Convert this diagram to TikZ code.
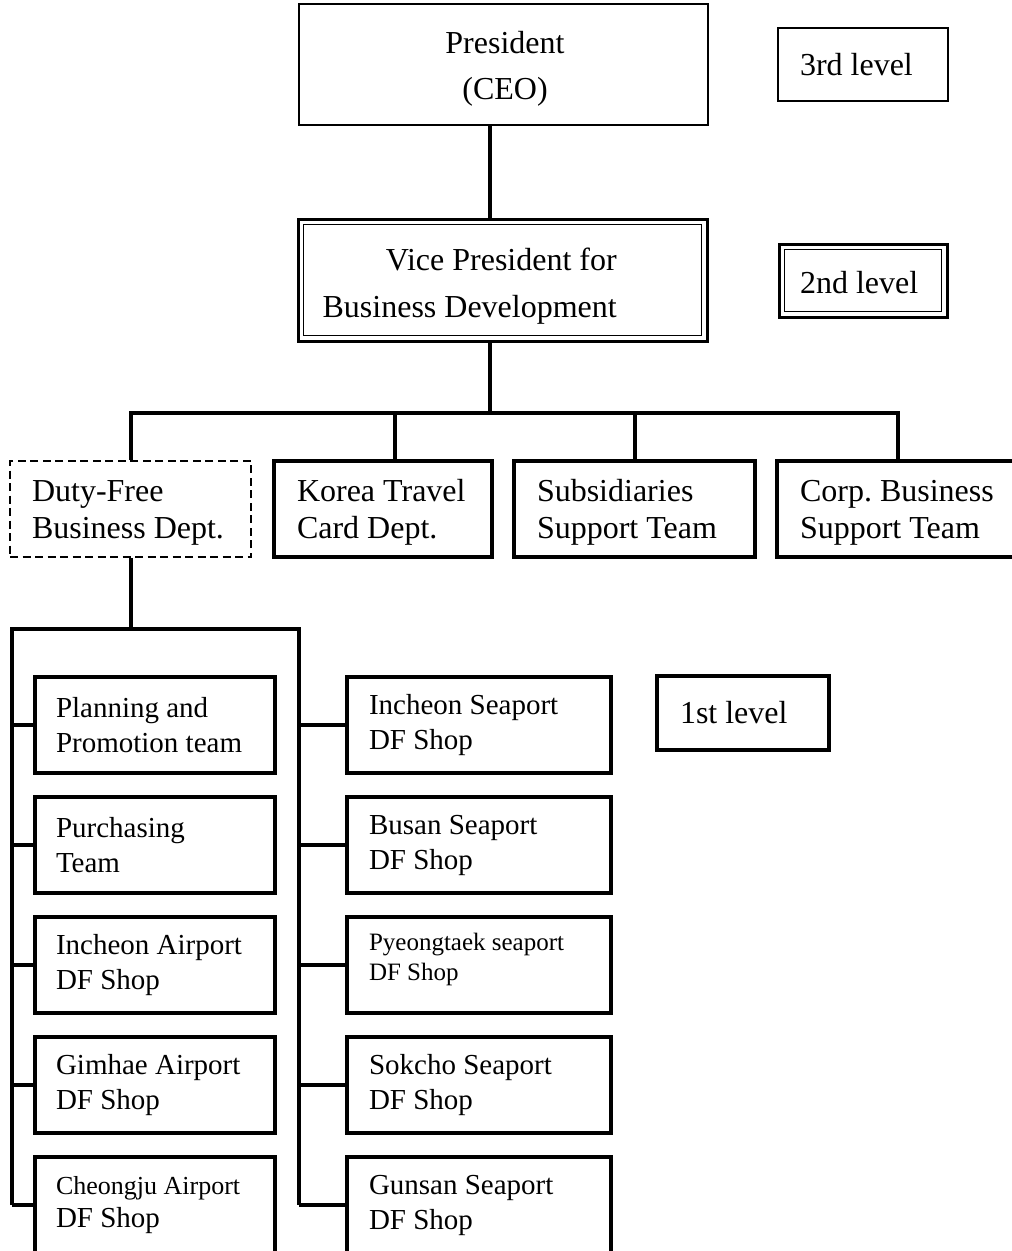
\documentclass[tikz,border=0pt]{standalone}
\usepackage{fontspec}
\setmainfont{Liberation Serif}
\frenchspacing
\begin{document}
\begin{tikzpicture}[x=1pt,y=-1pt,
  conn/.style={line width=4pt},
  box/.style={draw, rectangle, line width=3.5pt, inner ysep=0pt, minimum height=96pt, align=flush left},
  upbox/.style={box, font=\fontsize{32}{37}\selectfont\frenchspacing},
  lowbox/.style={box, font=\fontsize{29}{35}\selectfont\frenchspacing, text width=198pt, inner xsep=21pt},
  rbox/.style={box, font=\fontsize{29}{35}\selectfont\frenchspacing, text width=220pt, inner xsep=22pt},
  lvl/.style={draw, rectangle, line width=3.5pt, font=\fontsize{32}{37}\selectfont, align=flush left, text width=126pt, inner ysep=0pt},
  dashbox/.style={line width=2pt, dash pattern=on 8pt off 4.5pt},
  innerline/.style={line width=1.5pt}
]
\useasboundingbox (0,0) rectangle (1012,1251);

% top levels
\node[draw, line width=2.5pt, minimum width=409pt, minimum height=121pt] (pres) at (503.5,64.5) {};
\node[align=flush center, inner sep=0pt, font=\fontsize{32}{46}\selectfont] (prestext) at (505,68.5) {President\\(CEO)};
\node[lvl, line width=2pt, inner xsep=22pt, minimum height=73pt] (l3) at (863,64.5) {3rd level};

\node[draw, line width=3pt, minimum width=409pt, minimum height=122pt] (vp) at (502.5,280) {};
\draw[innerline] ([shift={(7,7)}]vp.north west) rectangle ([shift={(-7,-7)}]vp.south east);
\node[font=\fontsize{32}{47}\selectfont, align=flush right, anchor=east, inner sep=0pt] (vptext) at (617,286)
  {Vice President for\\Business Development};

\node[lvl, line width=3pt, inner xsep=21pt, minimum height=73pt] (l2) at (863,280.5) {\rule{0pt}{26pt}2nd level};
\draw[innerline] ([shift={(7,7)}]l2.north west) rectangle ([shift={(-7,-7)}]l2.south east);

% departments
\node[upbox, dashbox, text width=197pt, inner xsep=22pt] (dfbiz) at (130.5,509) {\rule{0pt}{29pt}Duty-Free\\Business Dept.};
\node[upbox, text width=172pt, inner xsep=23pt] (ktc) at (383,509) {\rule{0pt}{29pt}Korea Travel\\Card Dept.};
\node[upbox, text width=195pt, inner xsep=23pt] (subs) at (634.5,509) {\rule{0pt}{29pt}Subsidiaries\\Support Team};
\node[upbox, text width=214pt, inner xsep=23pt] (corp) at (907,509) {\rule{0pt}{29pt}Corp. Business\\Support Team};

% first level
\node[lvl, inner xsep=23pt, minimum height=74pt] (l1) at (743,713) {1st level};

\node[lowbox] (plan) at (155,725) {Planning and\\Promotion team};
\node[lowbox] (purch) at (155,845) {Purchasing\\Team};
\node[lowbox] (icnair) at (155,965) {Incheon Airport\\DF Shop};
\node[lowbox] (gimhae) at (155,1085) {Gimhae Airport\\DF Shop};
\node[lowbox, font=\fontsize{29}{33}\selectfont] (cheongju) at (155,1205)
  {{\fontsize{26}{33}\selectfont Cheongju Airport}\\DF Shop};

\node[rbox] (icnsea) at (479,725) {Incheon Seaport\\DF Shop};
\node[rbox] (busan) at (479,845) {Busan Seaport\\DF Shop};
\node[rbox, font=\fontsize{25}{30}\selectfont] (pyeong) at (479,965) {Pyeongtaek seaport\\DF Shop\rule[-15.5pt]{0pt}{1pt}};
\node[rbox] (sokcho) at (479,1085) {Sokcho Seaport\\DF Shop};
\node[rbox] (gunsan) at (479,1205) {Gunsan Seaport\\DF Shop};

% connectors
\coordinate (trunk) at (490,413);
\draw[conn] (trunk |- pres.south) -- (trunk |- vp.north);
\draw[conn] (trunk |- vp.south) -- (trunk);
\coordinate (b1) at (131,413);
\coordinate (bk) at (395,413);
\coordinate (bs) at (635,413);
\coordinate (b4) at (898,413);
\draw[conn] (b1 |- dfbiz.north) -- (b1) -- (b4) -- (b4 |- corp.north);
\draw[conn] (bk) -- (bk |- ktc.north);
\draw[conn] (bs) -- (bs |- subs.north);

\coordinate (dfb) at (131,629);
\coordinate (ll) at (12,629);
\coordinate (lr) at (299,629);
\draw[conn] (dfbiz.south -| dfb) -- (dfb);
\draw[conn] (ll |- cheongju.west) -- (ll) -- (lr) -- (lr |- gunsan.west);
\foreach \n in {plan,purch,icnair,gimhae,cheongju} {
  \draw[conn] (ll |- \n.west) -- (\n.west);
}
\foreach \n in {icnsea,busan,pyeong,sokcho,gunsan} {
  \draw[conn] (lr |- \n.west) -- (\n.west);
}
\end{tikzpicture}
\end{document}
